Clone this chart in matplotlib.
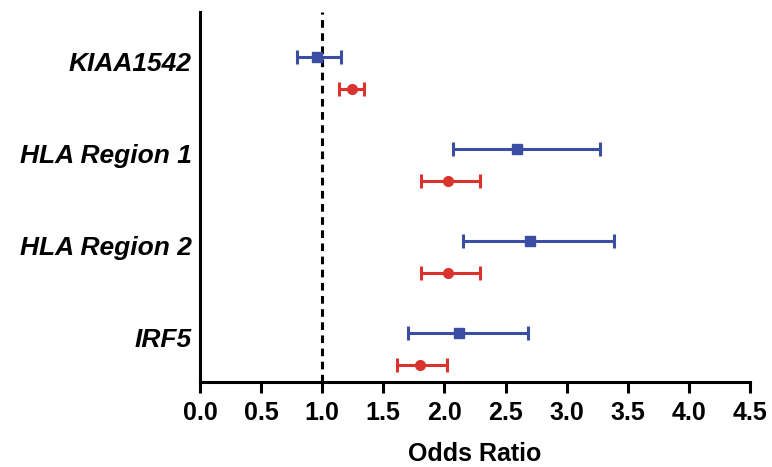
import matplotlib
matplotlib.use("Agg")
import matplotlib.pyplot as plt
import numpy as np

# forest plot data (odds ratio with 95% CI), top to bottom
genes = ["KIAA1542", "HLA Region 1", "HLA Region 2", "IRF5"]
blue_or = [0.96, 2.59, 2.70, 2.12]
blue_lo = [0.79, 2.07, 2.15, 1.70]
blue_hi = [1.15, 3.27, 3.39, 2.68]
red_or = [1.24, 2.03, 2.03, 1.80]
red_lo = [1.14, 1.81, 1.81, 1.61]
red_hi = [1.34, 2.29, 2.29, 2.02]
xticks = [0.0, 0.5, 1.0, 1.5, 2.0, 2.5, 3.0, 3.5, 4.0, 4.5]

BLUE = "#3b4ea3"
RED = "#da332e"
_OFF = 0.17

plt.rcParams["font.family"] = ["Liberation Sans", "DejaVu Sans"]

fig = plt.figure(figsize=(7.72, 4.67), dpi=100)
ax = fig.add_axes([0.259, 0.182, 0.7125, 0.792])

pos = np.arange(len(genes))[::-1].astype(float)


def _draw(vals, lo, hi, y, color, marker):
    vals = np.asarray(vals)
    err = [vals - np.asarray(lo), np.asarray(hi) - vals]
    ax.errorbar(vals, y, xerr=err, fmt=marker, color=color, ecolor=color,
                ms=7, elinewidth=2.2, capsize=5, capthick=2.2, clip_on=False)


_draw(blue_or, blue_lo, blue_hi, pos + _OFF, BLUE, "s")
_draw(red_or, red_lo, red_hi, pos - _OFF, RED, "o")

ax.axvline(1.0, color="black", lw=2.2, ls=(0, (2.5, 1.8)), zorder=0)

ax.set_xlim(0, 4.5)
ax.set_ylim(-0.36, 3.66)
ax.set_xticks(xticks)
ax.set_xticklabels([f"{t:.1f}" for t in xticks], fontsize=18, fontweight="bold")
ax.set_yticks(pos + 0.12)
ax.set_yticklabels(genes, fontsize=19, fontweight="bold", fontstyle="italic")
ax.tick_params(axis="y", length=0, pad=6)
ax.tick_params(axis="x", length=8, width=2.2, pad=6)
for s in ("top", "right"):
    ax.spines[s].set_visible(False)
for s in ("left", "bottom"):
    ax.spines[s].set_linewidth(2.2)
ax.set_xlabel("Odds Ratio", fontsize=18, fontweight="bold", labelpad=12)

fig.savefig("out.png", dpi=100)
